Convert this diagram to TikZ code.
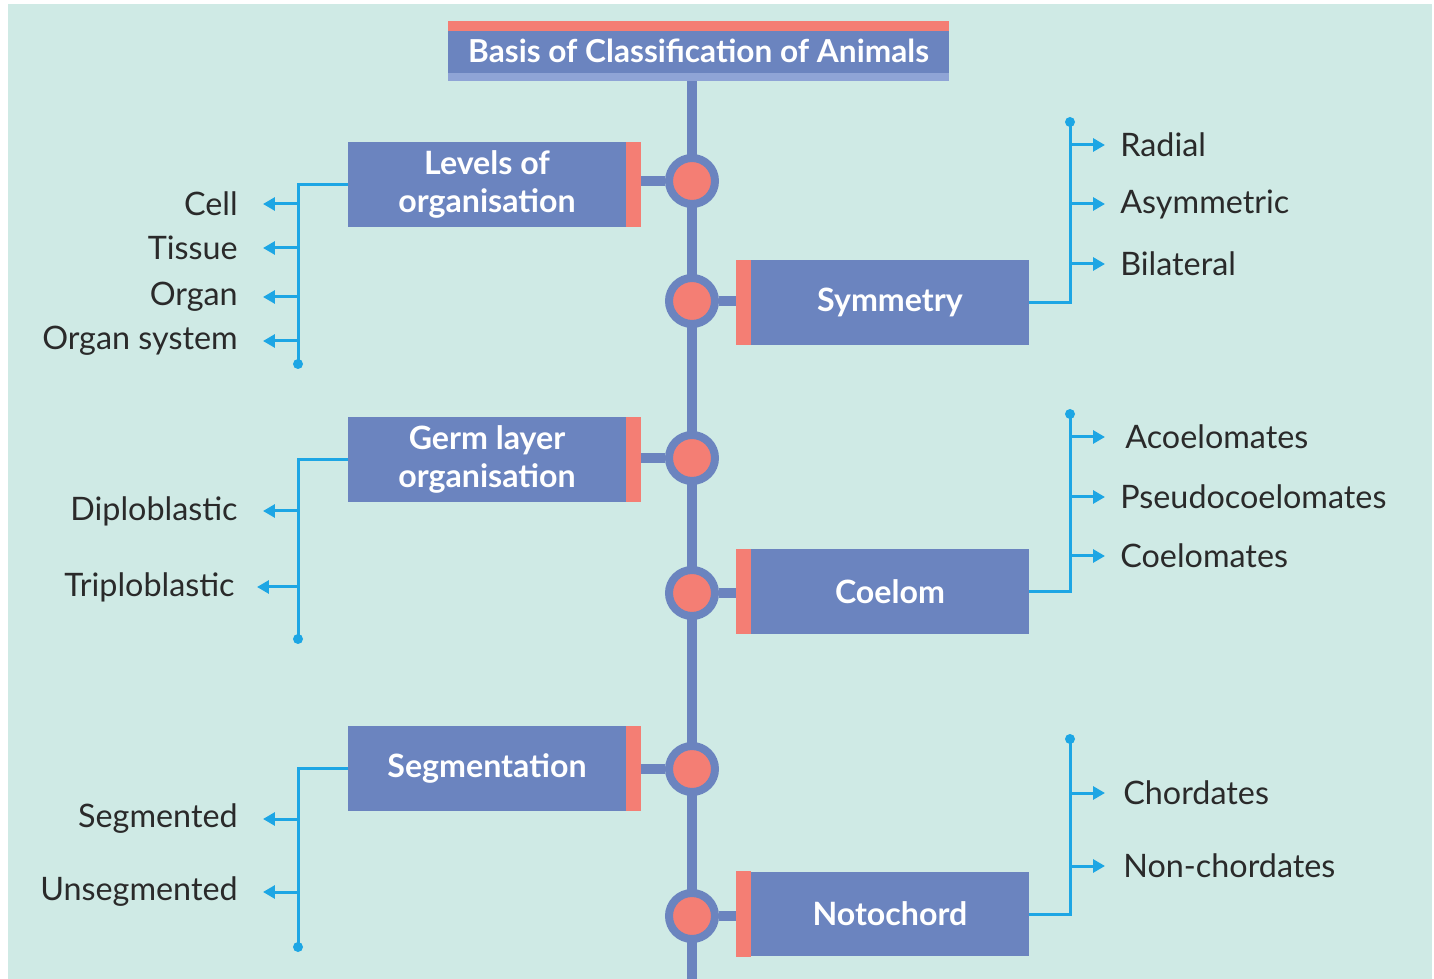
\documentclass[tikz,border=0pt]{standalone}
\usepackage{fontspec}
\setmainfont{Lato}
\usetikzlibrary{arrows.meta}

\definecolor{mint}{HTML}{CFEAE5}
\definecolor{boxblue}{HTML}{6B84BF}
\definecolor{stripblue}{HTML}{8FA4D6}
\definecolor{salmon}{HTML}{F47E74}
\definecolor{linkblue}{HTML}{1DA6E4}
\definecolor{ink}{HTML}{2A2A2A}

\begin{document}
\begin{tikzpicture}[x=0.02cm,y=-0.02cm,
  catbox/.style={fill=boxblue, text=white, inner sep=0pt, align=center,
    minimum width=5.56cm, minimum height=1.7cm,
    font=\bfseries\fontsize{18.3}{21.5}\selectfont},
  hub/.style={circle, fill=salmon, draw=boxblue, line width=0.16cm,
    inner sep=0pt, minimum size=0.92cm},
  spine/.style={draw=boxblue, line width=0.2cm},
  branch/.style={draw=linkblue, line width=0.06cm},
  pointer/.style={branch, -{Triangle[length=0.24cm,width=0.26cm]}, shorten >=0.5cm},
  item/.style={text=ink, inner sep=0pt, font=\fontsize{18.4}{21}\selectfont},
  litem/.style={item, anchor=east},
  ritem/.style={item, anchor=west},
  enddot/.style={circle, fill=linkblue, inner sep=0pt, minimum size=0.2cm}]

% page and backdrop
\useasboundingbox (0,0) rectangle (1434,979);
\fill[white] (0,0) rectangle (1434,985);
\fill[mint] (8,4) rectangle (1432,985);

% title bar
\node [fill=boxblue, text=white, minimum width=10.02cm, minimum height=1.2cm,
  inner sep=0pt, font=\bfseries\fontsize{18}{20}\selectfont,
  path picture={
    \fill[salmon] (path picture bounding box.north west) rectangle ([yshift=-0.2cm]path picture bounding box.north east);
    \fill[stripblue] (path picture bounding box.south west) rectangle ([yshift=0.16cm]path picture bounding box.south east);
  }] (title) at (698.5,51) {Basis of Classification of Animals};

\coordinate (foot) at (692,979);
\draw[spine] (title.south -| foot) -- (foot);

% hubs on the spine
\node [hub] (h1) at (692,181) {};
\node [hub] (h2) at (692,301) {};
\node [hub] (h3) at (692,458) {};
\node [hub] (h4) at (692,593) {};
\node [hub] (h5) at (692,769) {};
\node [hub] (h6) at (692,916) {};

% category boxes
\node [catbox] (lvl) at (487,184.5) {Levels of\\organisation};
\node [catbox] (sym) at (890,302.5) {Symmetry};
\node [catbox] (germ) at (487,459.5) {Germ layer\\organisation};
\node [catbox] (coel) at (890,591.5) {Coelom};
\node [catbox] (seg) at (487,768.5) {Segmentation};
\node [catbox] (noto) at (890,914) {Notochord};

\draw[spine] (h1) -- (h1 -| lvl.east);
\draw[spine] (h2) -- (h2 -| sym.west);
\draw[spine] (h3) -- (h3 -| germ.east);
\draw[spine] (h4) -- (h4 -| coel.west);
\draw[spine] (h5) -- (h5 -| seg.east);
\draw[spine] (h6) -- (h6 -| noto.west);

\foreach \n in {lvl,germ,seg}
  \fill[salmon] (\n.north east) rectangle ([xshift=0.3cm]\n.south east);
\foreach \n in {sym,coel,noto}
  \fill[salmon] (\n.north west) rectangle ([xshift=-0.3cm]\n.south west);

% levels of organisation
\node [litem] (cell) at (238,204) {Cell};
\node [litem] (tissue) at (238,248) {Tissue};
\node [litem] (organ) at (238,297) {Organ};
\node [litem] (orgsys) at (238,341) {Organ system};
\node [enddot] (lvlend) at (298,364) {};
\draw[branch] (lvl.west) -| (lvlend.center);
\foreach \n in {cell,tissue,organ,orgsys}
  \draw[pointer] (lvlend |- \n) -- (\n);

% germ layers
\node [litem] (diplo) at (238,511) {Diploblastic};
\node [litem] (triplo) at (235,587) {Triploblastic};
\node [enddot] (germend) at (298,639) {};
\draw[branch] (germ.west) -| (germend.center);
\draw[pointer] (germend |- diplo) -- (diplo);
\draw[pointer, shorten >=0.44cm] (germend |- triplo) -- (triplo);

% segmentation
\node [litem] (segd) at (238,819) {Segmented};
\node [litem] (unseg) at (238,892) {Unsegmented};
\node [enddot] (segend) at (298,947) {};
\draw[branch] (seg.west) -| (segend.center);
\draw[pointer] (segend |- segd) -- (segd);
\draw[pointer] (segend |- unseg) -- (unseg);

% symmetry
\node [ritem] (radial) at (1120,145) {Radial};
\node [ritem] (asym) at (1120,204) {Asymmetric};
\node [ritem] (bilat) at (1120,264) {Bilateral};
\node [enddot] (symend) at (1070,122) {};
\draw[branch] (sym.east) -| (symend.center);
\foreach \n in {radial,asym,bilat}
  \draw[pointer, shorten >=0.3cm] (symend |- \n) -- (\n);

% coelom
\node [ritem] (acoel) at (1125,437) {Acoelomates};
\node [ritem] (pseudo) at (1120,497) {Pseudocoelomates};
\node [ritem] (coelo) at (1120,556) {Coelomates};
\node [enddot] (coelend) at (1070,414) {};
\draw[branch] (coel.east) -| (coelend.center);
\draw[pointer, shorten >=0.4cm] (coelend |- acoel) -- (acoel);
\foreach \n in {pseudo,coelo}
  \draw[pointer, shorten >=0.3cm] (coelend |- \n) -- (\n);

% notochord
\node [ritem] (chord) at (1123,793) {Chordates};
\node [ritem] (nonchord) at (1123,866) {Non-chordates};
\node [enddot] (notoend) at (1070,739) {};
\draw[branch] (noto.east) -| (notoend.center);
\foreach \n in {chord,nonchord}
  \draw[pointer, shorten >=0.36cm] (notoend |- \n) -- (\n);
\end{tikzpicture}
\end{document}
